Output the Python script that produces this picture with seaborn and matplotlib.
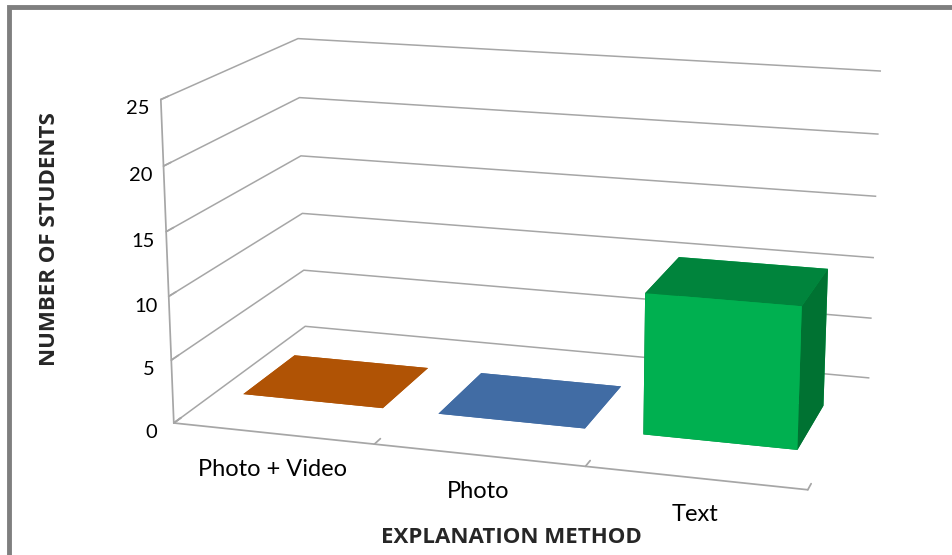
import matplotlib
matplotlib.use("Agg")
import matplotlib.pyplot as plt
from matplotlib.patches import Rectangle
from mpl_toolkits.mplot3d import proj3d
import numpy as np
import seaborn as sns

# Chart data
categories = ["Photo + Video", "Photo", "Text"]
students = [0, 0, 11]
z_ticks = [0, 5, 10, 15, 20, 25]

# Face colours per bar: (front, top, side)
front_colors = ["#B05305", "#416CA4", "#00B050"]
top_colors = ["#B05305", "#416CA4", "#00843C"]
side_colors = ["#8E4304", "#345A8A", "#007232"]

sns.set_theme(style="white")
plt.rcParams["font.family"] = ["Lato", "DejaVu Sans"]

fig = plt.figure(figsize=(9.53, 5.55), dpi=100)
ax = fig.add_axes([0.1, 0.068, 0.9, 0.955], projection="3d")
ax.set_proj_type("persp", focal_length=0.85)
ax.view_init(elev=15, azim=-73)

n = len(categories)
ax.set_xlim(0, n, view_margin=0)
ax.set_ylim(0, 1, view_margin=0)
ax.set_zlim(0, z_ticks[-1], view_margin=0)
ax.set_box_aspect((3.6, 1.95, 1.85), zoom=1.45)

bar_w = 0.72
bar_d = 0.4
x0 = np.arange(n) + 0.5 - bar_w / 2
y0 = np.full(n, 0.5 - bar_d / 2)
face_colors = []
for f, t, s in zip(front_colors, top_colors, side_colors):
    # order: -z, +z, -y, +y, -x, +x
    face_colors += [t, t, f, f, s, s]
bars = ax.bar3d(x0, y0, np.zeros(n), bar_w, bar_d, students,
                color=face_colors, shade=False, edgecolor="none", linewidth=0)
bars.set_clip_on(False)

# Walls: white panes, grey value gridlines only
grid_grey = "#a6a6a6"
for axis in (ax.xaxis, ax.yaxis, ax.zaxis):
    axis.set_pane_color((1, 1, 1, 1))
    axis.pane.set_edgecolor((1, 1, 1, 0))
    axis.label.set_visible(False)
    axis.get_offset_text().set_visible(False)
ax.xaxis._axinfo["grid"].update(color=(1, 1, 1, 0), linewidth=0)
ax.yaxis._axinfo["grid"].update(color=(1, 1, 1, 0), linewidth=0)
ax.zaxis._axinfo["grid"].update(color=grid_grey, linewidth=1.1)

ax.xaxis.line.set_color(grid_grey)
ax.zaxis.line.set_color(grid_grey)
ax.yaxis.line.set_color((1, 1, 1, 0))
ax.zaxis.set_ticks_position("lower")

ax.set_xticks(np.arange(n + 1))
ax.set_xticklabels([""] * (n + 1))
ax.set_yticks([])
ax.set_zticks(z_ticks)
ax.set_zticklabels([str(v) for v in z_ticks], fontsize=14.5)
for axis in (ax.xaxis, ax.zaxis):
    axis._axinfo["tick"].update(inward_factor=0, outward_factor=0.6)
ax.zaxis.set_tick_params(pad=-2, color=grid_grey, labelcolor="black", width=1.1)
ax.xaxis.set_tick_params(color=grid_grey, width=1.1)

# Category names hang a fixed distance below the category axis
M = ax.get_proj()
for i, cat in enumerate(categories):
    px, py, _ = proj3d.proj_transform(i + 0.5, 0, 0, M)
    ax.annotate(cat, xy=(px, py), xycoords="data", xytext=(0, -26),
                textcoords="offset points", ha="center", va="center",
                fontsize=17, color="black", annotation_clip=False)

title_font = ["Open Sans", "DejaVu Sans"]
fig.text(0.052, 0.57, "NUMBER OF STUDENTS", rotation=90, ha="center",
         va="center", fontsize=16, fontweight="bold", family=title_font)
fig.text(0.537, 0.031, "EXPLANATION METHOD", ha="center", va="center",
         fontsize=16, fontweight="bold", family=title_font)

# Chart area frame
fig.patches.append(Rectangle((0.0095, -0.1), 1.2, 1.087, transform=fig.transFigure,
                             fill=False, edgecolor="#7f7f7f", linewidth=3.5))

fig.savefig("out.png", dpi=100)
